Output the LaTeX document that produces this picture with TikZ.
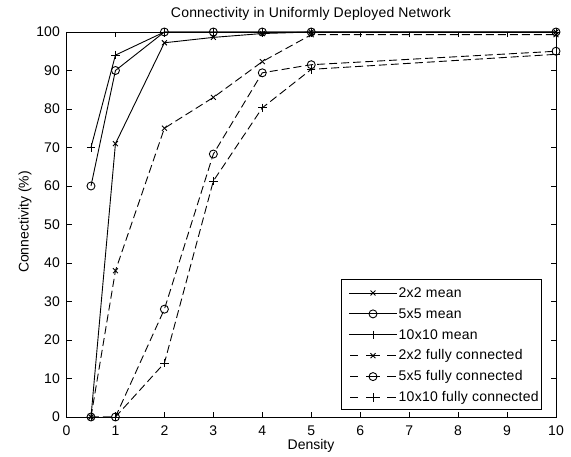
\documentclass[tikz,border=0pt]{standalone}
\usepackage{fontspec}
\setmainfont{Liberation Sans}
\usetikzlibrary{plotmarks}
\begin{document}
\begin{tikzpicture}[x=1pt,y=1pt,
  lbl/.style={font=\fontsize{14}{16}\selectfont, inner sep=0pt},
  leglbl/.style={font=\fontsize{14}{16}\selectfont\addfontfeature{LetterSpace=1.8}, inner sep=0pt},
  axln/.style={line width=0.9pt, black},
  sline/.style={line width=0.9pt, black},
  dline/.style={line width=0.9pt, black, dash pattern=on 8pt off 4pt},
  mx/.style={mark=x, mark size=3.5pt, mark options={solid}},
  mo/.style={mark=o, mark size=4pt, mark options={solid}},
  mp/.style={mark=+, mark size=4.2pt, mark options={solid}},
]
\useasboundingbox[fill=white] (0,0) rectangle (571,457);
\node[lbl] (title) at (311,443) {\addfontfeature{LetterSpace=1.5}Connectivity in Uniformly Deployed Network};
\node[lbl] (xlabel) at (311,11) {Density};
\node[lbl, rotate=90] (ylabel) at (25,235) {Connectivity (\%)};
\begin{scope}[shift={(66.5,40)}, x=48.95pt, y=3.85pt]
  % ticks and tick labels
  \foreach \i in {0,...,10} {
    \draw[axln] (\i,0) -- ++(0,5pt);
    \draw[axln] (\i,100) -- ++(0,-5pt);
    \node[lbl] (xt\i) at (\i,0) [yshift=-14pt] {\i};
  }
  \foreach \j in {0,10,...,100} {
    \draw[axln] (0,\j) -- ++(5pt,0);
    \draw[axln] (10,\j) -- ++(-5pt,0);
    \node[lbl, anchor=east] (yt\j) at (0,\j) [xshift=-6.5pt] {\j};
  }
  % data
  \draw[dline, mx] plot coordinates {(0.5,0) (1,38) (2,75) (3,83) (4,92.3) (5,99.3) (10,99.3)};
  \draw[dline, mo] plot coordinates {(0.5,0) (1,0) (2,28) (3,68.3) (4,89.4) (5,91.5) (10,95)};
  \draw[dline, mp] plot coordinates {(0.5,0) (1,0) (2,14) (3,61.3) (4,80.3) (5,90.3) (10,94.2)};
  \draw[sline, mx] plot coordinates {(0.5,0) (1,71) (2,97.2) (3,98.6) (4,99.6) (5,100) (10,100)};
  \draw[sline, mo] plot coordinates {(0.5,60) (1,90) (2,100) (3,100) (4,100) (5,100) (10,100)};
  \draw[sline, mp] plot coordinates {(0.5,70) (1,94) (2,100) (3,100) (4,100) (5,100) (10,100)};
  % axes box
  \draw[axln] (0,0) rectangle (10,100);
\end{scope}
% legend
\draw[axln, fill=white] (341,48) rectangle (541,178);
\foreach \k/\y/\mk/\txt in {
  1/164/mx/2x2 mean,
  2/143.1/mo/5x5 mean,
  3/122.2/mp/10x10 mean} {
  \draw[sline] (349,\y) -- (397,\y);
  \draw[sline, \mk] plot coordinates {(373,\y)};
  \node[leglbl, anchor=west] (leg\k) at (398.5,\y) {\txt};
}
\foreach \k/\y/\mk/\txt in {
  4/101.3/mx/2x2 fully connected,
  5/80.4/mo/5x5 fully connected,
  6/59.5/mp/10x10 fully connected} {
  \draw[sline] (350,\y) -- (358,\y) (366,\y) -- (380,\y) (387,\y) -- (396,\y);
  \draw[sline, \mk] plot coordinates {(373,\y)};
  \node[leglbl, anchor=west] (leg\k) at (398.5,\y) {\txt};
}
\end{tikzpicture}
\end{document}
